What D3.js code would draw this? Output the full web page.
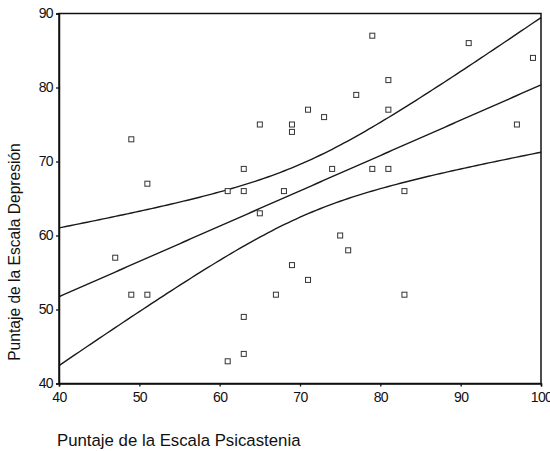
<!DOCTYPE html>
<html>
<head>
<meta charset="utf-8">
<script src="https://cdn.jsdelivr.net/npm/d3@7"></script>
<style>
  html, body { margin: 0; padding: 0; background: #fff; }
  svg { display: block; }
  text { font-family: "Liberation Sans", Arial, sans-serif; fill: #111; }
</style>
</head>
<body>
<svg id="chart" width="550" height="451"></svg>
<script>
// Psicastenia (x) and Depresión (y) scores, one entry per subject
const psicastenia = [49, 51, 47, 49, 51, 61, 63, 63, 65, 63, 63, 61,
                     65, 69, 69, 71, 73, 77, 79, 81, 81, 91, 99, 97,
                     74, 79, 81, 68, 83, 75, 76, 69, 71, 67, 83];
const depresion   = [73, 67, 57, 52, 52, 66, 69, 66, 63, 49, 44, 43,
                     75, 75, 74, 77, 76, 79, 87, 81, 77, 86, 84, 75,
                     69, 69, 69, 66, 66, 60, 58, 56, 54, 52, 52];
const xTicks = [40, 50, 60, 70, 80, 90, 100];
const yTicks = [40, 50, 60, 70, 80, 90];
const xTitle = "Puntaje de la Escala Psicastenia";
const yTitle = "Puntaje de la Escala Depresión";

const svg = d3.select("#chart");
const plotL = 59, plotR = 541, plotT = 13.5, plotB = 383.5;

const x = d3.scaleLinear().domain([40, 100]).range([plotL, plotR]);
const y = d3.scaleLinear().domain([40, 90]).range([plotB, plotT]);

// Least-squares fit with a 95% confidence band for the mean
const n = psicastenia.length;
const mx = d3.mean(psicastenia), my = d3.mean(depresion);
let sxx = 0, sxy = 0;
for (let i = 0; i < n; i++) {
  sxx += (psicastenia[i] - mx) ** 2;
  sxy += (psicastenia[i] - mx) * (depresion[i] - my);
}
const slope = sxy / sxx, intercept = my - slope * mx;
let sse = 0;
for (let i = 0; i < n; i++) sse += (depresion[i] - (intercept + slope * psicastenia[i])) ** 2;
const se = Math.sqrt(sse / (n - 2));
const tCrit = 2.0345; // t(0.975, df = 33)
const fit = v => intercept + slope * v;
const half = v => tCrit * se * Math.sqrt(1 / n + (v - mx) ** 2 / sxx);

const grid = d3.range(40, 100.01, 0.5);
const line = d3.line().x(d => x(d[0])).y(d => y(d[1]));

const curves = [
  grid.map(v => [v, fit(v) + half(v)]),
  grid.map(v => [v, fit(v)]),
  grid.map(v => [v, fit(v) - half(v)])
];
svg.append("g")
  .selectAll("path")
  .data(curves)
  .join("path")
  .attr("d", line)
  .attr("fill", "none")
  .attr("stroke", "#1a1a1a")
  .attr("stroke-width", 1.4);

// Scatter markers: small open squares
const s = 5;
svg.append("g")
  .selectAll("rect")
  .data(d3.range(n))
  .join("rect")
  .attr("x", i => x(psicastenia[i]) - s / 2)
  .attr("y", i => y(depresion[i]) - s / 2)
  .attr("width", s)
  .attr("height", s)
  .attr("fill", "#fff")
  .attr("stroke", "#333")
  .attr("stroke-width", 1);

// Frame
svg.append("rect")
  .attr("x", plotL).attr("y", plotT)
  .attr("width", plotR - plotL).attr("height", plotB - plotT)
  .attr("fill", "none")
  .attr("stroke", "#111")
  .attr("stroke-width", 1.5);

// Axes
const xAxis = d3.axisBottom(x).tickValues(xTicks).tickSize(3).tickPadding(6);
const yAxis = d3.axisLeft(y).tickValues(yTicks).tickSize(3).tickPadding(3);

const gx = svg.append("g").attr("transform", `translate(0,${plotB})`).call(xAxis);
const gy = svg.append("g").attr("transform", `translate(${plotL},0)`).call(yAxis);
[gx, gy].forEach(g => {
  g.select(".domain").attr("stroke", "#111").attr("stroke-width", 1.5);
  g.selectAll(".tick line").attr("stroke", "#111").attr("stroke-width", 1.3);
  g.selectAll(".tick text")
    .attr("fill", "#111")
    .style("font-family", "'Liberation Sans', Arial, sans-serif")
    .style("font-size", "14px")
    .style("letter-spacing", "-0.6px");
});

// Axis titles
svg.append("text")
  .attr("x", 57).attr("y", 446)
  .style("font-size", "16.8px")
  .text(xTitle);

svg.append("text")
  .attr("transform", "translate(20,252) rotate(-90)")
  .attr("text-anchor", "middle")
  .style("font-size", "15.6px")
  .text(yTitle);
</script>
</body>
</html>
